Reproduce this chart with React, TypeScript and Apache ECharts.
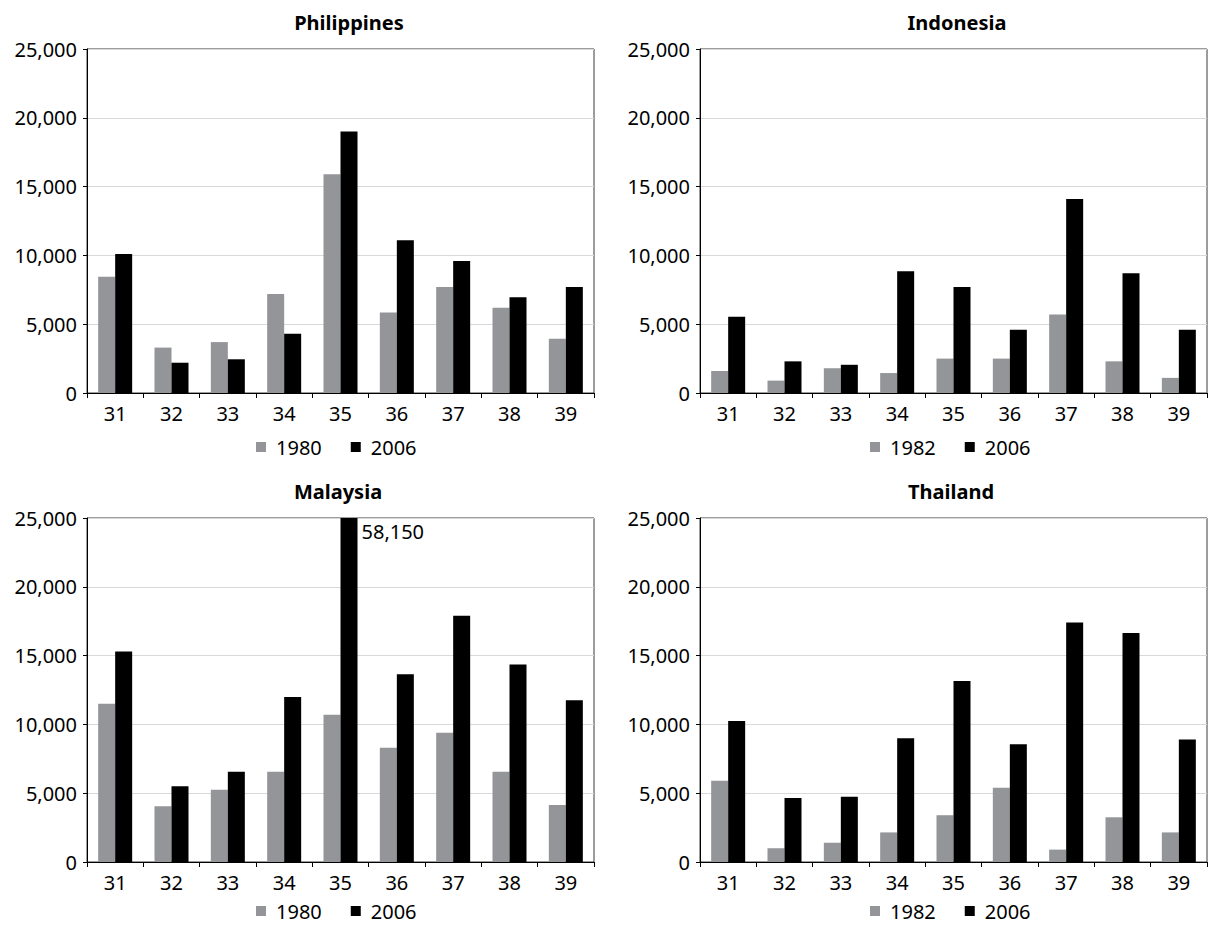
import React, { useEffect, useRef } from "react";
import * as echarts from "echarts";

const categories = ["31", "32", "33", "34", "35", "36", "37", "38", "39"];

const phil1980 = [8450, 3300, 3700, 7200, 15900, 5850, 7700, 6200, 3950];
const phil2006 = [10100, 2200, 2450, 4300, 19000, 11100, 9600, 6950, 7700];
const indo1982 = [1600, 900, 1800, 1450, 2500, 2500, 5700, 2300, 1100];
const indo2006 = [5550, 2300, 2050, 8850, 7700, 4600, 14100, 8700, 4600];
const malay1980 = [11500, 4050, 5250, 6550, 10700, 8300, 9400, 6550, 4150];
const malay2006 = [15300, 5500, 6550, 12000, 58150, 13650, 17900, 14350, 11750];
const thai1982 = [5900, 1000, 1400, 2150, 3400, 5400, 900, 3250, 2150];
const thai2006 = [10250, 4650, 4750, 9000, 13150, 8550, 17400, 16650, 8900];

const yTicks = { min: 0, max: 25000, interval: 5000 };

const FONT = "'Noto Sans', 'Open Sans', sans-serif";
const GRAY = "#939598";
const BLACK = "#000000";

const panels = [
  { title: "Philippines", oldYear: "1980", oldData: phil1980, newData: phil2006, left: 87, top: 49, titleX: 349, titleY: 12, legendX: 256, legendY: 437 },
  { title: "Indonesia", oldYear: "1982", oldData: indo1982, newData: indo2006, left: 700, top: 49, titleX: 957, titleY: 12, legendX: 870, legendY: 437 },
  { title: "Malaysia", oldYear: "1980", oldData: malay1980, newData: malay2006, left: 87, top: 518, titleX: 338, titleY: 481, legendX: 256, legendY: 901 },
  { title: "Thailand", oldYear: "1982", oldData: thai1982, newData: thai2006, left: 700, top: 518, titleX: 951, titleY: 481, legendX: 870, legendY: 901 },
];

const fmt = (v: number) => v.toLocaleString("en-US");

export default function App() {
  const ref = useRef<HTMLDivElement>(null);

  useEffect(() => {
    if (!ref.current) return;
    const chart = echarts.init(ref.current, null, { renderer: "svg" });

    const grids: any[] = [];
    const xAxes: any[] = [];
    const yAxes: any[] = [];
    const series: any[] = [];
    const titles: any[] = [];
    const legends: any[] = [];

    panels.forEach((p, i) => {
      grids.push({
        left: p.left,
        top: p.top,
        width: 507,
        height: 344,
        show: true,
        borderColor: "#3a3a3a",
        borderWidth: 1,
        backgroundColor: "transparent",
      });
      xAxes.push({
        type: "category",
        gridIndex: i,
        data: categories,
        boundaryGap: true,
        axisLine: { show: true, lineStyle: { color: "#000", width: 1 } },
        axisTick: { show: true, alignWithLabel: false, length: 5, inside: false, lineStyle: { color: "#000" } },
        axisLabel: { color: "#000", fontSize: 20, fontFamily: FONT, margin: 10, interval: 0 },
        splitLine: { show: false },
      });
      yAxes.push({
        type: "value",
        gridIndex: i,
        min: yTicks.min,
        max: yTicks.max,
        interval: yTicks.interval,
        axisLine: { show: true, lineStyle: { color: "#000", width: 1 } },
        axisTick: { show: true, length: 4, inside: false, lineStyle: { color: "#000" } },
        axisLabel: {
          color: "#000",
          fontSize: 20,
          fontFamily: FONT,
          margin: 10,
          formatter: (v: number) => fmt(v),
        },
        splitLine: { show: true, lineStyle: { color: "#d9d9d9", width: 1 } },
      });
      series.push({
        type: "bar",
        name: p.oldYear,
        xAxisIndex: i,
        yAxisIndex: i,
        data: p.oldData,
        barWidth: 17,
        barGap: "0%",
        itemStyle: { color: GRAY },
        clip: true,
      });
      series.push({
        type: "bar",
        name: "2006",
        xAxisIndex: i,
        yAxisIndex: i,
        data: p.newData.map((v) =>
          v > yTicks.max
            ? {
                value: v,
                label: {
                  show: true,
                  position: [21, 13],
                  align: "left",
                  verticalAlign: "middle",
                  color: "#000",
                  fontSize: 20,
                  fontFamily: FONT,
                  formatter: (prm: any) => fmt(prm.value),
                },
              }
            : v
        ),
        barWidth: 17,
        barGap: "0%",
        itemStyle: { color: BLACK },
        clip: true,
      });
      titles.push({
        text: p.title,
        left: p.titleX,
        top: p.titleY,
        textAlign: "center",
        padding: 0,
        textStyle: { fontFamily: FONT, fontSize: 20, fontWeight: "bold", color: "#000", lineHeight: 20 },
      });
      legends.push({
        data: [p.oldYear, "2006"],
        left: p.legendX,
        top: p.legendY,
        orient: "horizontal",
        padding: 0,
        itemWidth: 10,
        itemHeight: 10,
        itemGap: 29,
        icon: "rect",
        selectedMode: false,
        textStyle: { fontFamily: FONT, fontSize: 20, color: "#000", padding: [0, 0, 0, 5] },
      });
    });

    chart.setOption({
      animation: false,
      backgroundColor: "#ffffff",
      title: titles,
      legend: legends,
      grid: grids,
      xAxis: xAxes,
      yAxis: yAxes,
      series,
    });

    return () => chart.dispose();
  }, []);

  return (
    <div
      ref={ref}
      style={{ position: "absolute", left: 0, top: 0, width: 1212, height: 928, background: "#fff" }}
    />
  );
}
